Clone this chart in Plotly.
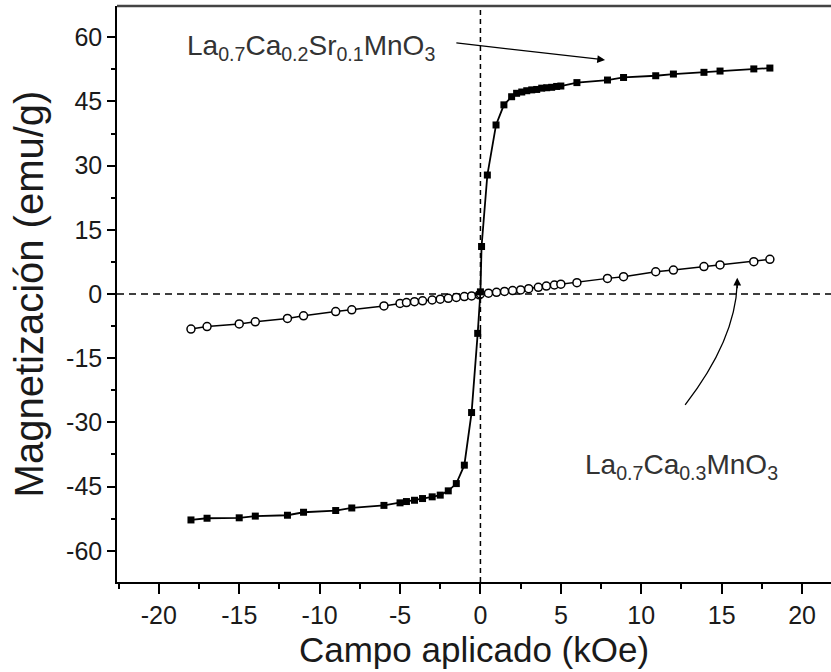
import plotly.graph_objects as go

# La0.7Ca0.2Sr0.1MnO3 (filled squares)
H_sr = [-18, -17, -15, -14, -12, -11, -9, -8, -6, -5, -4.6, -4.1, -3.6, -3.0, -2.5, -2.0,
        -1.5, -1.0, -0.55, -0.17, 0.0, 0.07, 0.43, 0.97, 1.46, 1.94, 2.25, 2.57, 2.88, 3.19,
        3.5, 3.81, 4.12, 4.43, 4.74, 5.0, 6.0, 7.9, 8.9, 10.9, 12.0, 13.9, 14.9, 17.0, 18.0]
M_sr = [-52.8, -52.4, -52.3, -51.9, -51.7, -51.0, -50.6, -50.0, -49.4, -48.8, -48.5, -48.2,
        -47.8, -47.4, -47.0, -46.0, -44.3, -40.0, -27.7, -9.2, 0.5, 11.1, 27.8, 39.5, 44.2,
        46.1, 46.9, 47.2, 47.5, 47.7, 47.8, 48.1, 48.2, 48.3, 48.5, 48.6, 49.4, 50.0, 50.6,
        51.0, 51.4, 51.8, 52.1, 52.6, 52.8]

# La0.7Ca0.3MnO3 (open circles)
H_ca = [-18, -17, -15, -14, -12, -11, -9, -8, -6, -5, -4.6, -4.1, -3.6, -3.0, -2.5, -2.0,
        -1.5, -1.0, -0.55, -0.07, 0.0, 0.5, 1.0, 1.5, 2.0, 2.5, 3.0, 3.6, 4.1, 4.6, 5.0, 6.0,
        7.9, 8.9, 10.9, 12.0, 13.9, 14.9, 17.0, 18.0]
M_ca = [-8.2, -7.6, -7.0, -6.5, -5.7, -5.1, -4.1, -3.7, -2.8, -2.2, -2.0, -1.8, -1.6, -1.4,
        -1.2, -1.0, -0.8, -0.6, -0.45, -0.2, 0.0, 0.2, 0.4, 0.6, 0.8, 0.95, 1.25, 1.55, 1.85,
        2.1, 2.3, 2.65, 3.65, 4.05, 5.2, 5.6, 6.4, 6.8, 7.55, 8.1]

x_ticks = [-20, -15, -10, -5, 0, 5, 10, 15, 20]
y_ticks = [-60, -45, -30, -15, 0, 15, 30, 45, 60]

FONT = "Liberation Sans, Arial, sans-serif"
INK = "#1a1a1a"

fig = go.Figure()
fig.add_trace(go.Scatter(
    x=H_ca, y=M_ca, mode="lines+markers",
    line=dict(color="black", width=1.5),
    marker=dict(symbol="circle", size=8, color="white", line=dict(color="black", width=1.5)),
    showlegend=False))
fig.add_trace(go.Scatter(
    x=H_sr, y=M_sr, mode="lines+markers",
    line=dict(color="black", width=1.8),
    marker=dict(symbol="square", size=7, color="black"),
    showlegend=False))

# dashed zero lines
fig.add_shape(type="line", xref="x", yref="paper", x0=0, x1=0, y0=0, y1=1,
              line=dict(color="black", width=1.5, dash="5px,4px"), layer="below")
fig.add_shape(type="line", xref="paper", yref="y", x0=0, x1=1, y0=0, y1=0,
              line=dict(color="black", width=1.5, dash="7px,5px"), layer="below")
# top frame line
fig.add_shape(type="line", xref="paper", yref="paper", x0=0, x1=1, y0=1, y1=1,
              line=dict(color="#444", width=2.5))

# curved arrow for La0.7Ca0.3MnO3
fig.add_shape(type="path", xref="x", yref="y",
              path="M 12.73,-25.9 Q 15.85,-10.75 15.97,2.5",
              line=dict(color="black", width=1.3))
fig.add_annotation(x=15.97, y=3.8, xref="x", yref="y", ax=0, ay=12, text="",
                   showarrow=True, arrowhead=2, arrowsize=1.2, arrowwidth=1.3,
                   arrowcolor="black", standoff=0)
fig.add_annotation(x=6.4, y=-40.4, xref="x", yref="y", xanchor="left", yanchor="middle",
                   text="La<sub>0.7</sub>Ca<sub>0.3</sub>MnO<sub>3</sub>", showarrow=False,
                   font=dict(family=FONT, size=28, color="#333"))

# arrow for La0.7Ca0.2Sr0.1MnO3
fig.add_annotation(x=7.75, y=54.7, xref="x", yref="y", axref="x", ayref="y",
                   ax=-1.59, ay=58.7, text="", showarrow=True, arrowhead=2,
                   arrowsize=1.2, arrowwidth=1.3, arrowcolor="black", standoff=0)
fig.add_annotation(x=-18.4, y=57.5, xref="x", yref="y", xanchor="left", yanchor="middle",
                   text="La<sub>0.7</sub>Ca<sub>0.2</sub>Sr<sub>0.1</sub>MnO<sub>3</sub>",
                   showarrow=False, font=dict(family=FONT, size=28, color="#333"))

fig.update_xaxes(
    range=[-22.6, 21.8], tickvals=x_ticks, ticktext=[str(v) for v in x_ticks],
    showgrid=False, zeroline=False, showline=True, linecolor="black", linewidth=1.5,
    ticks="outside", ticklen=10, tickwidth=1.5, tickcolor="black",
    minor=dict(ticks="outside", ticklen=5, tickwidth=1.5, tickcolor="black",
               dtick=2.5, tick0=0, showgrid=False),
    tickfont=dict(family=FONT, size=25, color=INK),
    title=dict(text="Campo aplicado (kOe)", font=dict(family=FONT, size=35, color=INK),
               standoff=10))
fig.update_yaxes(
    range=[-67.3, 67.3], tickvals=y_ticks, ticktext=[str(v) for v in y_ticks],
    showgrid=False, zeroline=False, showline=True, linecolor="black", linewidth=1.5,
    ticks="outside", ticklen=8, tickwidth=1.5, tickcolor="black",
    minor=dict(ticks="outside", ticklen=4, tickwidth=1.5, tickcolor="black",
               dtick=7.5, tick0=0, showgrid=False),
    tickfont=dict(family=FONT, size=25, color=INK),
    title=dict(text="Magnetización (emu/g)", font=dict(family=FONT, size=40, color=INK),
               standoff=10))

fig.update_layout(
    width=831, height=672,
    margin=dict(l=117, r=0, t=6, b=90),
    paper_bgcolor="white", plot_bgcolor="white",
    showlegend=False)

fig.write_html("out.html")
